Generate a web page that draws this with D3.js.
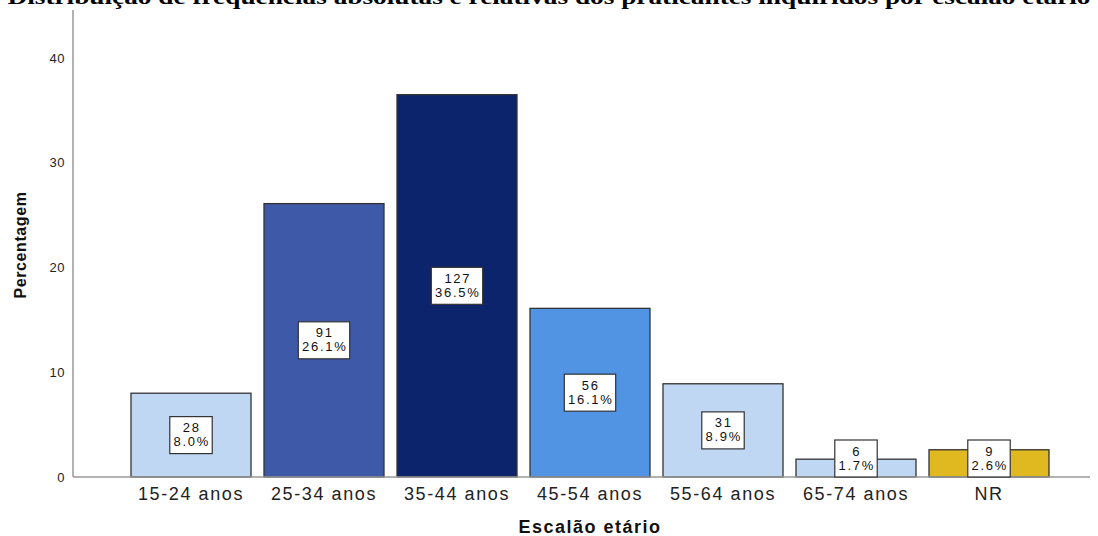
<!DOCTYPE html>
<html>
<head>
<meta charset="utf-8">
<script src="https://cdn.jsdelivr.net/npm/d3@7"></script>
<style>
  html, body { margin: 0; padding: 0; background: #fff; }
  svg { display: block; }
</style>
</head>
<body>
<svg id="chart" width="1098" height="536"></svg>
<script>
const categories = ["15-24 anos", "25-34 anos", "35-44 anos", "45-54 anos", "55-64 anos", "65-74 anos", "NR"];
const counts = [28, 91, 127, 56, 31, 6, 9];
const percents = [8.0, 26.1, 36.5, 16.1, 8.9, 1.7, 2.6];
const barColors = ["#bfd7f2", "#3e59a8", "#0b246b", "#5194e3", "#bfd7f2", "#bfd7f2", "#dfb91f"];
const yTicks = [0, 10, 20, 30, 40];
const titleText = "Distribuição de frequências absolutas e relativas dos praticantes inquiridos por escalão etário";
const xTitle = "Escalão etário";
const yTitle = "Percentagem";

const data = categories.map((c, i) => ({ cat: c, n: counts[i], p: percents[i], color: barColors[i] }));

const svg = d3.select("#chart");
const axisX0 = 73, axisX1 = 1090;
const y = d3.scaleLinear().domain([0, 40]).range([477, 58]);
const yTop = 10;

const x = d3.scaleBand()
  .domain(categories)
  .range([124.5, 1055.5])
  .paddingInner(13 / 133)
  .paddingOuter(6.5 / 133);

// Title (clipped at top as in reference)
svg.append("text")
  .attr("x", 549).attr("y", 4)
  .attr("text-anchor", "middle")
  .attr("font-family", "Liberation Serif, Times New Roman, serif")
  .attr("font-weight", "bold")
  .attr("font-size", 21)
  .attr("textLength", 1083)
  .attr("lengthAdjust", "spacingAndGlyphs")
  .attr("fill", "#000")
  .text(titleText);

// Bars
svg.append("g").selectAll("rect").data(data).join("rect")
  .attr("x", d => x(d.cat))
  .attr("y", d => y(d.p))
  .attr("width", x.bandwidth())
  .attr("height", d => y(0) - y(d.p))
  .attr("fill", d => d.color)
  .attr("stroke", "#333")
  .attr("stroke-width", 1.3);

// Axes
const yAxis = d3.axisLeft(y).tickValues(yTicks).tickSize(0).tickPadding(8);
const gy = svg.append("g").attr("transform", `translate(${axisX0},0)`).call(yAxis);
gy.select(".domain").remove();
gy.selectAll("text")
  .attr("font-family", "Liberation Sans, Arial, sans-serif")
  .attr("font-size", 13)
  .attr("letter-spacing", 0.5)
  .attr("fill", "#222");
svg.append("line")
  .attr("x1", axisX0).attr("x2", axisX0)
  .attr("y1", yTop).attr("y2", y(0))
  .attr("stroke", "#999").attr("stroke-width", 1.5);

const xAxis = d3.axisBottom(x).tickSize(0).tickPadding(10);
const gx = svg.append("g").attr("transform", `translate(0,${y(0)})`).call(xAxis);
gx.select(".domain").remove();
gx.selectAll("text")
  .attr("font-family", "Liberation Sans, Arial, sans-serif")
  .attr("font-size", 18)
  .attr("letter-spacing", 1.6)
  .attr("fill", "#222");
svg.append("line")
  .attr("x1", axisX0).attr("x2", axisX1)
  .attr("y1", y(0)).attr("y2", y(0))
  .attr("stroke", "#999").attr("stroke-width", 1.5);

// Value labels
const boxH = 37;
const labels = svg.append("g").selectAll("g").data(data).join("g");
labels.each(function(d) {
  const g = d3.select(this);
  const cx = x(d.cat) + x.bandwidth() / 2;
  let cy = (y(d.p) + y(0)) / 2;
  cy = Math.min(cy, y(0) - boxH / 2);
  const rect = g.append("rect");
  const mk = (txt, yy) => g.append("text").attr("x", cx + 0.8).attr("y", yy)
    .attr("text-anchor", "middle")
    .attr("font-family", "Liberation Sans, Arial, sans-serif")
    .attr("font-size", 13).attr("letter-spacing", 1.7).attr("fill", "#111")
    .text(txt);
  const t1 = mk(d.n, cy - 3);
  const t2 = mk(d.p.toFixed(1) + "%", cy + 11);
  const w = Math.max(t1.node().getComputedTextLength(), t2.node().getComputedTextLength()) + 6;
  rect.attr("x", cx - w / 2).attr("y", cy - boxH / 2)
    .attr("width", w).attr("height", boxH)
    .attr("fill", "#fff").attr("stroke", "#333").attr("stroke-width", 1.2);
});

// Axis titles
svg.append("text")
  .attr("x", 590).attr("y", 533)
  .attr("text-anchor", "middle")
  .attr("font-family", "Liberation Sans, Arial, sans-serif")
  .attr("font-weight", "bold").attr("font-size", 18)
  .attr("letter-spacing", 1.5)
  .attr("fill", "#111")
  .text(xTitle);

svg.append("text")
  .attr("transform", "translate(26,245) rotate(-90)")
  .attr("text-anchor", "middle")
  .attr("font-family", "Liberation Sans, Arial, sans-serif")
  .attr("font-weight", "bold").attr("font-size", 16)
  .attr("letter-spacing", 0.6)
  .attr("fill", "#111")
  .text(yTitle);
</script>
</body>
</html>
